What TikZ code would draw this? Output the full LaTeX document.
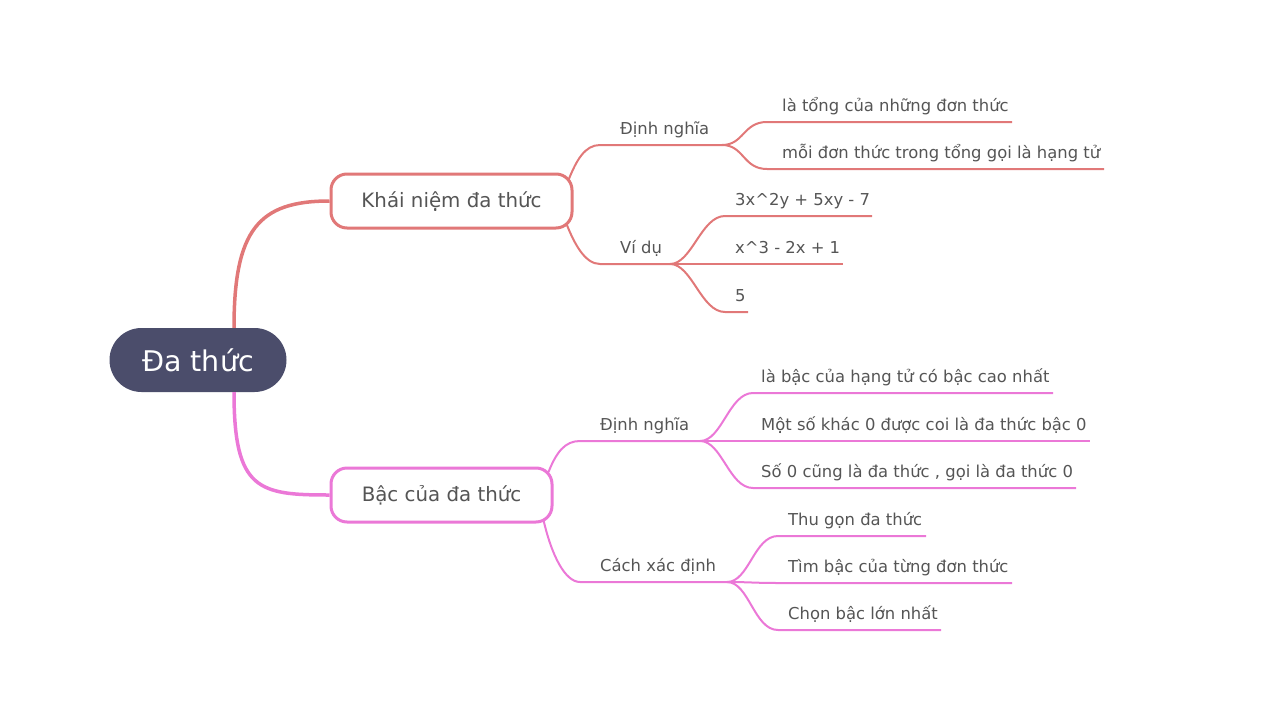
\documentclass[tikz,border=0pt]{standalone}
\usepackage{fontspec}
\setmainfont{DejaVu Sans}
\usepackage{tikz}
\usetikzlibrary{calc}

\definecolor{rootfill}{HTML}{4B4D6B}
\definecolor{redbr}{HTML}{E17878}
\definecolor{pinkbr}{HTML}{EB78D7}
\definecolor{txtgray}{HTML}{555555}

\tikzset{
    rootbox/.style={fill=rootfill, text=white, rounded corners=32pt, minimum width=177pt, minimum height=64pt, font=\fontsize{28.5}{32}\selectfont},
    topicbox/.style={fill=white, line width=3pt, rounded corners=16pt, minimum height=54pt, inner xsep=20pt, text=txtgray, font=\fontsize{19.8}{23}\selectfont},
    subtext/.style={anchor=base west, inner sep=0pt, text=txtgray, font=\fontsize{16.4}{19}\selectfont},
    twig/.style={line width=2pt},
}

\begin{document}
\begin{tikzpicture}[x=1pt,y=-1pt]
    \useasboundingbox (0,0) rectangle (1280,720);

    % Root and main topics
    \node[rootbox] (root) at (198,360) {Đa thức};
    \node[topicbox, draw=redbr, minimum width=241pt] (concept) at (451.5,201) {Khái niệm đa thức};
    \node[topicbox, draw=pinkbr, minimum width=221pt] (degree) at (441.5,495) {Bậc của đa thức};

    % Main branches
    \draw[redbr, line width=3.5pt] ($(root.north)+(36,0)$) .. controls +(0,-98) and +(-71,0) .. (concept.west);
    \draw[pinkbr, line width=3.5pt] ($(root.south)+(36,0)$) .. controls +(0,98) and +(-71,0) .. (degree.west);

    % Khai niem: subtopics
    \coordinate (cdef-s) at (600,145); \coordinate (cdef-j) at (722,145);
    \coordinate (cex-s) at (600,264);  \coordinate (cex-j) at (670,264);
    \node[subtext] (cdef) at (620,134) {Định nghĩa};
    \node[subtext] (cex) at (620,253) {Ví dụ};
    \draw[redbr, twig] ($(concept.east)+(-5,-21)$) .. controls +(8,-20) and +(-15,0) .. (cdef-s) -- (cdef-j);
    \draw[redbr, twig] ($(concept.east)+(-7,23)$) .. controls +(8,20) and +(-15,0) .. (cex-s) -- (cex-j);

    % Khai niem: leaves
    \foreach \y/\e/\t [count=\i] in {122/1012/{là tổng của những đơn thức}, 169/1104/{mỗi đơn thức trong tổng gọi là hạng tử}} {
        \coordinate (cdef\i-s) at (767,\y); \coordinate (cdef\i-e) at (\e,\y);
        \node[subtext] (cdef\i) at (782,\y-11) {\t};
        \draw[redbr, twig] (cdef-j) .. controls +(22,0) and +(-24,0) .. (cdef\i-s) -- (cdef\i-e);
    }
    \foreach \y/\e/\t [count=\i] in {216/872/{3x\textasciicircum2y + 5xy - 7}, 264/843/{x\textasciicircum3 - 2x + 1}, 312/748/{5}} {
        \coordinate (cex\i-s) at (725,\y); \coordinate (cex\i-e) at (\e,\y);
        \node[subtext] (cex\i) at (735,\y-11) {\t};
        \draw[redbr, twig] (cex-j) .. controls +(22,0) and +(-24,0) .. (cex\i-s) -- (cex\i-e);
    }

    % Bac cua da thuc: subtopics
    \coordinate (ddef-s) at (580,441); \coordinate (ddef-j) at (700,441);
    \coordinate (dhow-s) at (580,582); \coordinate (dhow-j) at (727,582);
    \node[subtext] (ddef) at (600,430) {Định nghĩa};
    \node[subtext] (dhow) at (600,571) {Cách xác định};
    \draw[pinkbr, twig] ($(degree.east)+(-5,-23)$) .. controls +(8,-20) and +(-15,0) .. (ddef-s) -- (ddef-j);
    \draw[pinkbr, twig] ($(degree.east)+(-10,25)$) .. controls +(8,35) and +(-15,0) .. (dhow-s) -- (dhow-j);

    % Bac cua da thuc: leaves
    \foreach \y/\e/\t [count=\i] in {393/1053/{là bậc của hạng tử có bậc cao nhất}, 441/1090/{Một số khác 0 được coi là đa thức bậc 0}, 488/1076/{Số 0 cũng là đa thức , gọi là đa thức 0}} {
        \coordinate (ddef\i-s) at (753,\y); \coordinate (ddef\i-e) at (\e,\y);
        \node[subtext] (ddef\i) at (761,\y-11) {\t};
        \draw[pinkbr, twig] (ddef-j) .. controls +(22,0) and +(-24,0) .. (ddef\i-s) -- (ddef\i-e);
    }
    \foreach \y/\e/\t [count=\i] in {536/926/{Thu gọn đa thức}, 583/1012/{Tìm bậc của từng đơn thức}, 630/941/{Chọn bậc lớn nhất}} {
        \coordinate (dhow\i-s) at (778,\y); \coordinate (dhow\i-e) at (\e,\y);
        \node[subtext] (dhow\i) at (788,\y-11) {\t};
        \draw[pinkbr, twig] (dhow-j) .. controls +(22,0) and +(-24,0) .. (dhow\i-s) -- (dhow\i-e);
    }
\end{tikzpicture}
\end{document}
